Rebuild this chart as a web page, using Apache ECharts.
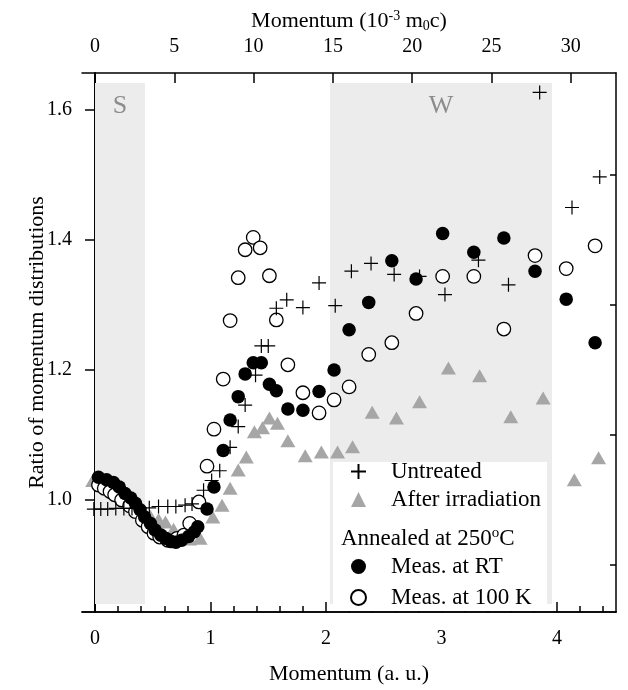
<!DOCTYPE html>
<html><head><meta charset="utf-8">
<script src="https://cdn.jsdelivr.net/npm/echarts@6/dist/echarts.min.js"></script>
<style>html,body{margin:0;padding:0;background:#fff}#c{width:628px;height:690px}</style>
</head><body><div id="c"></div>
<script>
// ---- data (momentum in a.u., ratio) ----
const untreatedX = [-0.01,0.05,0.11,0.18,0.25,0.32,0.39,0.47,0.55,0.63,0.70,0.78,0.84,0.94,1.01,1.08,1.17,1.24,1.30,1.39,1.44,1.50,1.57,1.66,1.80,1.94,2.08,2.22,2.39,2.59,2.81,3.03,3.32,3.58,3.85,4.13,4.37];
const untreatedY = [0.986,0.986,0.986,0.987,0.987,0.987,0.988,0.988,0.990,0.990,0.990,0.992,0.994,1.015,1.030,1.045,1.081,1.113,1.146,1.192,1.237,1.237,1.295,1.308,1.296,1.334,1.299,1.352,1.364,1.347,1.344,1.316,1.369,1.331,1.627,1.450,1.497];

const irradX = [-0.02,0.06,0.13,0.20,0.27,0.34,0.41,0.48,0.55,0.61,0.68,0.74,0.82,0.91,1.02,1.10,1.17,1.24,1.31,1.38,1.45,1.51,1.58,1.67,1.82,1.96,2.10,2.23,2.40,2.61,2.81,3.06,3.33,3.60,3.88,4.15,4.36];
const irradY = [1.030,1.026,1.020,1.012,1.003,0.993,0.983,0.975,0.970,0.966,0.955,0.945,0.940,0.941,0.974,0.992,1.018,1.046,1.066,1.105,1.111,1.126,1.118,1.091,1.068,1.074,1.074,1.082,1.135,1.126,1.151,1.203,1.191,1.128,1.157,1.031,1.065];

const rtX = [0.03,0.10,0.16,0.21,0.26,0.31,0.35,0.39,0.43,0.48,0.52,0.57,0.61,0.66,0.70,0.75,0.81,0.86,0.89,0.97,1.03,1.11,1.17,1.24,1.30,1.37,1.44,1.51,1.57,1.67,1.80,1.94,2.07,2.20,2.37,2.57,2.78,3.01,3.28,3.54,3.81,4.08,4.33];
const rtY = [1.035,1.031,1.027,1.020,1.010,1.003,0.995,0.985,0.974,0.964,0.954,0.946,0.941,0.936,0.935,0.938,0.944,0.951,0.959,0.986,1.020,1.076,1.123,1.159,1.194,1.211,1.211,1.178,1.168,1.140,1.138,1.167,1.200,1.262,1.304,1.368,1.340,1.410,1.381,1.403,1.352,1.309,1.242];

const lowTX = [0.03,0.08,0.13,0.17,0.23,0.30,0.35,0.41,0.46,0.51,0.56,0.63,0.71,0.77,0.82,0.90,0.97,1.03,1.11,1.17,1.24,1.30,1.37,1.43,1.51,1.57,1.67,1.80,1.94,2.07,2.20,2.37,2.57,2.78,3.01,3.28,3.54,3.81,4.08,4.33];
const lowTY = [1.023,1.018,1.013,1.008,1.000,0.991,0.982,0.969,0.959,0.949,0.943,0.938,0.941,0.946,0.964,0.997,1.052,1.109,1.186,1.276,1.342,1.385,1.404,1.388,1.345,1.277,1.208,1.165,1.134,1.154,1.174,1.224,1.242,1.287,1.344,1.344,1.263,1.376,1.356,1.391];

// tick values
const bottomMajor = [0,1,2,3,4];
const bottomMinor = [0.2,0.4,0.6,0.8,1.2,1.4,1.6,1.8,2.2,2.4,2.6,2.8,3.2,3.4,3.6,3.8,4.2,4.4];
const topMajor = [0,5,10,15,20,25,30];
const leftMajor = [1.0,1.2,1.4,1.6];
const leftMinor = [0.9,1.1,1.3,1.5];

// shaded regions [x0,x1]
const regionS = [0, 0.433];
const regionW = [2.035, 3.957];
const regionY = [0.84, 1.6415];

const XMIN = -0.1126, XMAX = 4.511, K = 7.283;
const YMIN = 0.8277, YMAX = 1.6569;
const FONT = 'Liberation Serif';
const TICKFS = 20, TITLEFS = 22, LEGFS = 23;

const zip = (a,b) => a.map((v,i)=>[v,b[i]]);
const chart = echarts.init(document.getElementById('c'), null, {renderer:'canvas'});

function ax(pos, min, max, ticks, len, labels, extra) {
  return Object.assign({
    type:'value', position:pos, min:min, max:max, splitLine:{show:false},
    axisLine:{show:true, lineStyle:{color:'#000', width:1.5}},
    axisTick:{show:true, inside:true, length:len, customValues:ticks, lineStyle:{color:'#000', width:1.5}},
    axisLabel:{show:!!labels, customValues:labels||[], color:'#000', fontFamily:FONT, fontSize:TICKFS},
  }, extra||{});
}

const plusPath = 'path://M0,7 L14,7 M7,0 L7,14';
const legendText = {fontFamily:FONT, fontSize:LEGFS, lineHeight:23, color:'#000', padding:[0,0,0,20]};

chart.setOption({
  animation:false,
  grid:{left:82, right:12, top:73, bottom:78},
  xAxis:[
    ax('bottom', XMIN, XMAX, bottomMajor, 10, bottomMajor, {
      name:'Momentum (a. u.)', nameLocation:'middle', nameGap:51, nameMoveOverlap:false,
      nameTextStyle:{fontFamily:FONT, fontSize:TITLEFS, color:'#000'},
      axisLabel:{show:true, customValues:bottomMajor, margin:17, color:'#000', fontFamily:FONT, fontSize:TICKFS}
    }),
    ax('bottom', XMIN, XMAX, bottomMinor, 6, null),
    ax('top', XMIN*K, XMAX*K, topMajor, 10, topMajor, {
      name:'Momentum (10{sup|-3} m{sub|0}c)', nameLocation:'middle', nameGap:39, nameMoveOverlap:false,
      nameTextStyle:{fontFamily:FONT, fontSize:TITLEFS, color:'#000',
        rich:{sup:{fontFamily:FONT, fontSize:14, color:'#000', padding:[0,0,11,0]},
              sub:{fontFamily:FONT, fontSize:14, color:'#000', padding:[10,0,0,0]}}},
      axisLabel:{show:true, customValues:topMajor, margin:16, color:'#000', fontFamily:FONT, fontSize:TICKFS}
    })
  ],
  yAxis:[
    ax('left', YMIN, YMAX, leftMajor, 10, leftMajor, {
      name:'Ratio of momentum distributions', nameLocation:'middle', nameGap:34, nameMoveOverlap:false,
      nameTextStyle:{fontFamily:FONT, fontSize:TITLEFS, color:'#000'},
      axisLabel:{show:true, customValues:leftMajor, margin:10, color:'#000', fontFamily:FONT, fontSize:TICKFS,
        formatter:v=>Number(v).toFixed(1)}
    }),
    ax('left', YMIN, YMAX, leftMinor, 6, null),
    ax('right', YMIN, YMAX, leftMajor, 10, null),
    ax('right', YMIN, YMAX, leftMinor, 6, null)
  ],
  legend:[
    {data:['Untreated','After irradiation'], orient:'vertical', left:350, top:460, padding:0, itemWidth:15, itemHeight:15, itemGap:5,
     selectedMode:false, z:20, textStyle:legendText},
    {data:['Meas. at RT','Meas. at 100 K'], orient:'vertical', left:350, top:555, padding:0, itemWidth:15, itemHeight:15, itemGap:8,
     selectedMode:false, z:20, textStyle:legendText}
  ],
  graphic:[
    {type:'rect', left:333, top:462, shape:{width:214, height:149}, style:{fill:'#fff'}, z:10, silent:true},
    {type:'text', left:341, top:526, z:21, silent:true,
     style:{text:'Annealed at 250{sup|o}C', fontFamily:FONT, fontSize:LEGFS, fill:'#000',
       rich:{sup:{fontFamily:FONT, fontSize:15, fill:'#000', padding:[0,0,11,0]}}}}
  ],
  series:[
    {type:'scatter', name:'regions', data:[], silent:true, z:1,
     markArea:{silent:true, itemStyle:{color:'#ececec'},
       label:{show:true, position:'insideTop', distance:10, color:'#8c8c8c', fontFamily:FONT, fontSize:26},
       data:[
         [{name:'S', xAxis:regionS[0], yAxis:regionY[1]}, {xAxis:regionS[1], yAxis:regionY[0]}],
         [{name:'W', xAxis:regionW[0], yAxis:regionY[1]}, {xAxis:regionW[1], yAxis:regionY[0]}]
       ]}},
    {type:'scatter', name:'After irradiation', data:zip(irradX, irradY), symbol:'triangle', symbolSize:[15,13], z:3,
     itemStyle:{color:'#a6a6a6', opacity:1}},
    {type:'scatter', name:'Meas. at 100 K', data:zip(lowTX, lowTY), symbol:'circle', symbolSize:13.5, z:4,
     itemStyle:{color:'#fff', borderColor:'#000', borderWidth:1.3, opacity:1}},
    {type:'scatter', name:'Meas. at RT', data:zip(rtX, rtY), symbol:'circle', symbolSize:13.5, z:5,
     itemStyle:{color:'#000', opacity:1}},
    {type:'scatter', name:'Untreated', data:zip(untreatedX, untreatedY), symbol:plusPath, symbolSize:14, z:6,
     itemStyle:{color:'rgba(0,0,0,0)', borderColor:'#000', borderWidth:1.2, opacity:1}}
  ]
});
</script></body></html>
